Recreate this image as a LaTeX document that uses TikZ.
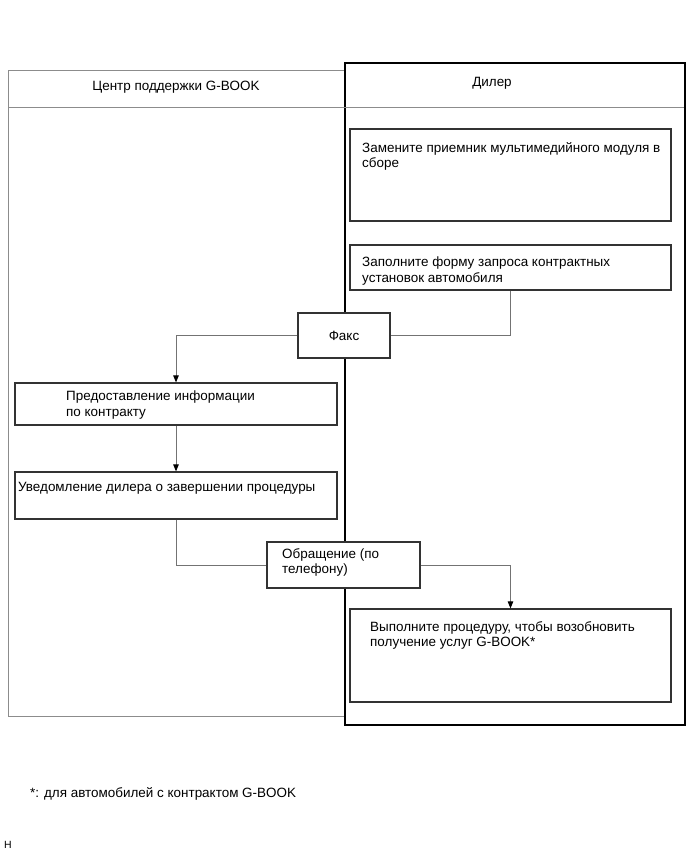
\documentclass[tikz,border=0pt]{standalone}
\usepackage{fontspec}
\setmainfont{Liberation Sans}
\usepackage{tikz}
\usetikzlibrary{arrows.meta,positioning}

\begin{document}
\begin{tikzpicture}[
  x=1bp, y=-1bp,
  font=\fontsize{13.5}{15.5}\selectfont,
  lane/.style={draw=black!45, line width=0.8bp, anchor=north west, inner sep=0pt},
  dealerlane/.style={draw=black, line width=2bp, anchor=north west, inner sep=0pt},
  stepbox/.style={draw=black!80, line width=1.2bp, fill=white, inner sep=0pt},
  txt/.style={anchor=north west, inner sep=0pt, align=left},
  link/.style={draw=black!55, line width=0.9bp},
  arr/.style={link, -{Triangle[length=7bp,width=5.5bp,color=black]}},
  headline/.style={draw=black!45, line width=0.8bp}
]
\useasboundingbox (0,0) rectangle (691,855);

% lanes
\node[lane, minimum width=336bp, minimum height=646bp] (center) at (8,70) {};
\node[dealerlane, minimum width=340bp, minimum height=662bp] (dealer) at (344,62) {};
\coordinate (hl) at (8,107);
\coordinate (hr) at (684,107);
\draw[headline] (hl) -- (hr);
\node (centertitle) at (176,87) {Центр поддержки G-BOOK};
\node (dealertitle) at (492,83) {Дилер};

% steps
\node[stepbox, minimum width=321bp, minimum height=92bp] (replace) at (510.5,175) {};
\node[stepbox, minimum width=321bp, minimum height=45bp] (request) at (510.5,267.5) {};
\node[stepbox, minimum width=92bp, minimum height=45bp] (fax) at (344,335.5) {Факс};
\node[stepbox, minimum width=322bp, minimum height=42bp] (contract) at (176,404) {};
\node[stepbox, minimum width=322bp, minimum height=47bp] (notify) at (176,495.5) {};
\node[stepbox, minimum width=153bp, minimum height=46bp] (call) at (343.5,565) {};
\node[stepbox, minimum width=321bp, minimum height=93bp] (resume) at (510.5,655.5) {};

\node[txt] (replacetxt) at (362,142) {Замените приемник мультимедийного модуля в\\сборе};
\node[txt] (requesttxt) at (362,257) {Заполните форму запроса контрактных\\установок автомобиля};
\node[txt] (contracttxt) at (66,391) {Предоставление информации\\по контракту};
\node[txt] (notifytxt) at (18,482) {Уведомление дилера о завершении процедуры};
\node[txt] (calltxt) at (282,548) {Обращение (по\\телефону)};
\node[txt] (resumetxt) at (370,621) {Выполните процедуру, чтобы возобновить\\получение услуг G-BOOK*};

% connectors
\draw[link] (request.south) |- (fax.east);
\draw[arr] (fax.west) -| (contract.north);
\draw[arr] (contract.south) -- (notify.north);
\draw[link] (notify.south) |- (call.west);
\draw[arr] (call.east) -| (resume.north);

\node[txt] (note) at (30,787) {*: для автомобилей с контрактом G-BOOK};
\node[txt, font=\fontsize{10.5}{12}\selectfont] (code) at (4,841) {H};
\end{tikzpicture}
\end{document}
